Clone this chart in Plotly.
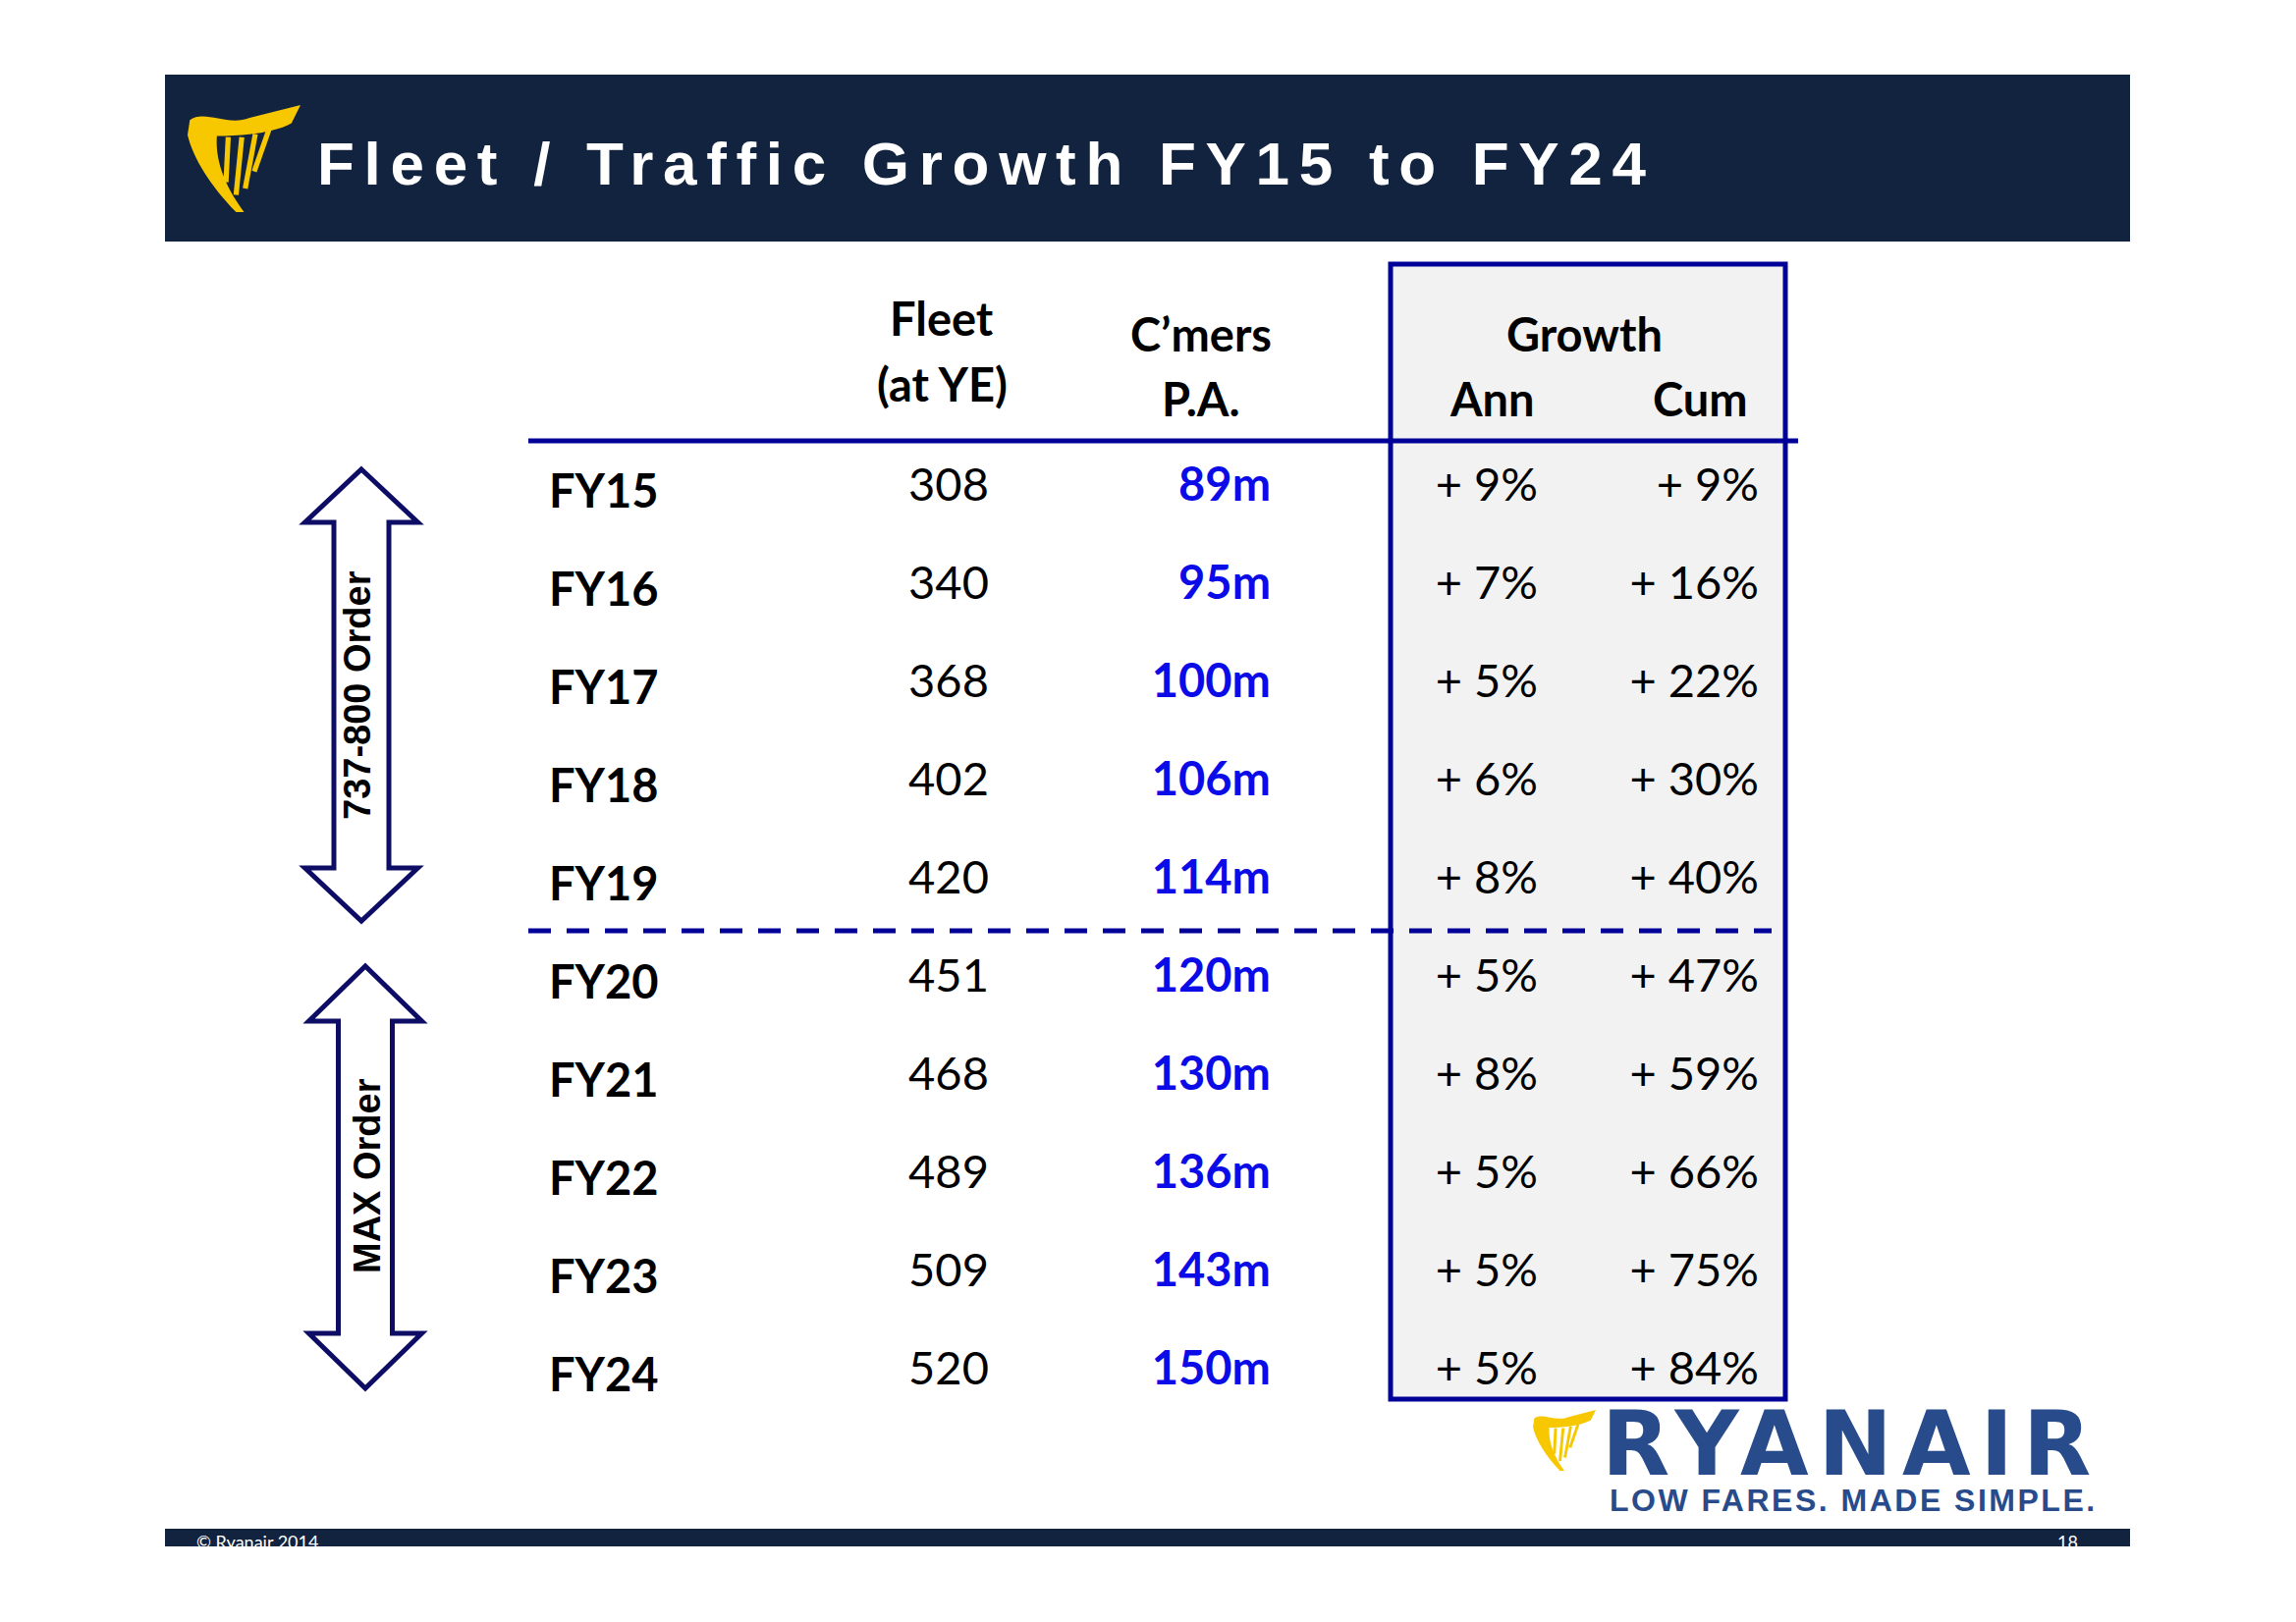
import plotly.graph_objects as go

# ---------------- data ----------------
years = ["FY15", "FY16", "FY17", "FY18", "FY19", "FY20", "FY21", "FY22", "FY23", "FY24"]
fleet = [308, 340, 368, 402, 420, 451, 468, 489, 509, 520]
customers_m = [89, 95, 100, 106, 114, 120, 130, 136, 143, 150]
growth_ann = [9, 7, 5, 6, 8, 5, 8, 5, 5, 5]
growth_cum = [9, 16, 22, 30, 40, 47, 59, 66, 75, 84]

title = "Fleet / Traffic Growth FY15 to FY24"
order_groups = ["737-800 Order", "MAX Order"]

# ---------------- layout constants ----------------
W, H = 2338, 1652
OFF = 8  # default body margin of the html page
NAVY = "#12233F"
BOX_BLUE = "#000099"
ARROW_BLUE = "#0D0D66"
TEXT_BLUE = "#0B0BE8"
YELLOW = "#F7C800"
LOGO_BLUE = "#284B8C"
TFONT = "Lato, 'Open Sans', sans-serif"

ROW_PX = 100
LABEL_Y0 = 505
VALUE_Y0 = 498

COL_LABEL_X = 559
COL_FLEET_X = 966
COL_CUST_X = 1294
COL_ANN_X = 1566
COL_CUM_X = 1791

fig = go.Figure()

# ---------- table cells (text traces on category axes) ----------
FS = 47
fig.add_trace(go.Scatter(x=[COL_LABEL_X] * len(years), y=years, mode="text", text=years,
                         textposition="middle right", yaxis="y2",
                         textfont=dict(family=TFONT, size=FS, color="black", weight="bold"),
                         hoverinfo="skip", showlegend=False))
fig.add_trace(go.Scatter(x=[COL_FLEET_X] * len(years), y=years, mode="text",
                         text=[str(v) for v in fleet], textposition="middle center", yaxis="y3",
                         textfont=dict(family=TFONT, size=FS, color="black"),
                         hoverinfo="skip", showlegend=False))
fig.add_trace(go.Scatter(x=[COL_CUST_X] * len(years), y=years, mode="text",
                         text=[f"{v}m" for v in customers_m], textposition="middle left", yaxis="y3",
                         textfont=dict(family=TFONT, size=FS, color=TEXT_BLUE, weight="bold"),
                         hoverinfo="skip", showlegend=False))
fig.add_trace(go.Scatter(x=[COL_ANN_X] * len(years), y=years, mode="text",
                         text=[f"+ {v}%" for v in growth_ann], textposition="middle left", yaxis="y3",
                         textfont=dict(family=TFONT, size=FS, color="black"),
                         hoverinfo="skip", showlegend=False))
fig.add_trace(go.Scatter(x=[COL_CUM_X] * len(years), y=years, mode="text",
                         text=[f"+ {v}%" for v in growth_cum], textposition="middle left", yaxis="y3",
                         textfont=dict(family=TFONT, size=FS, color="black"),
                         hoverinfo="skip", showlegend=False))

shapes = []
# header bar
shapes.append(dict(type="rect", x0=168, x1=2169, y0=76, y1=246, fillcolor=NAVY, line_width=0, layer="below"))
# footer bar
shapes.append(dict(type="rect", x0=168, x1=2169, y0=1557, y1=1575, fillcolor=NAVY, line_width=0, layer="below"))
# growth box
shapes.append(dict(type="rect", x0=1416, x1=1818, y0=269, y1=1425, fillcolor="#F2F2F2",
                   line=dict(color=BOX_BLUE, width=5), layer="below"))
# header rule
shapes.append(dict(type="line", x0=538, x1=1831, y0=449, y1=449, line=dict(color=BOX_BLUE, width=5), layer="below"))
# dashed separator
shapes.append(dict(type="line", x0=538, x1=1804, y0=948, y1=948,
                   line=dict(color=BOX_BLUE, width=5, dash="23px,16px"), layer="below"))


def dbl_arrow(cx, ytop, ybot, head_w, shaft_w, head_h):
    hx, sx = head_w / 2, shaft_w / 2
    pts = [(cx, ytop), (cx + hx, ytop + head_h), (cx + sx, ytop + head_h), (cx + sx, ybot - head_h),
           (cx + hx, ybot - head_h), (cx, ybot), (cx - hx, ybot - head_h), (cx - sx, ybot - head_h),
           (cx - sx, ytop + head_h), (cx - hx, ytop + head_h)]
    return "M " + " L ".join(f"{x},{y}" for x, y in pts) + " Z"


shapes.append(dict(type="path", path=dbl_arrow(368, 478, 938, 115, 56, 54),
                   line=dict(color=ARROW_BLUE, width=5), fillcolor="white"))
shapes.append(dict(type="path", path=dbl_arrow(372, 984, 1414, 115, 55, 56),
                   line=dict(color=ARROW_BLUE, width=5), fillcolor="white"))


def harp(x0, y0, w, h):
    def P(u, v):
        return f"{x0 + u * w:.1f},{y0 + v * h:.1f}"
    body = (f"M {P(0.02,0.14)} C {P(0.15,0.04)} {P(0.35,0.20)} {P(0.55,0.12)} L {P(1.0,0.0)} "
            f"L {P(0.92,0.17)} C {P(0.75,0.27)} {P(0.45,0.29)} {P(0.26,0.29)} "
            f"C {P(0.24,0.55)} {P(0.36,0.80)} {P(0.50,1.0)} L {P(0.43,1.0)} "
            f"C {P(0.20,0.75)} {P(0.05,0.50)} {P(0.0,0.28)} Z")
    out = [dict(type="path", path=body, fillcolor=YELLOW, line_width=0)]
    strings = [((0.36, 0.30), (0.34, 0.72)), ((0.48, 0.30), (0.43, 0.84)),
               ((0.60, 0.27), (0.51, 0.78)), ((0.72, 0.23), (0.59, 0.62))]
    for (u0, v0), (u1, v1) in strings:
        out.append(dict(type="path", path=f"M {P(u0,v0)} L {P(u1,v1)}",
                        line=dict(color=YELLOW, width=max(2, w / 22))))
    return out


shapes += harp(191, 107, 115, 109)
shapes += harp(1561, 1436, 64, 62)

ann = []
# title
ann.append(dict(x=321, y=166, xref="x", yref="y", xanchor="left", yanchor="middle", showarrow=False,
                text=f'<span style="letter-spacing:9.7px">{title}</span>',
                font=dict(family="'Liberation Sans', Arial, sans-serif", size=62, color="white", weight="bold")))


def hdr(text, x, y):
    ann.append(dict(x=x, y=y, xref="x", yref="y", xanchor="center", yanchor="middle", showarrow=False,
                    text=text, font=dict(family=TFONT, size=FS, color="black", weight="bold")))


hdr("Fleet", 959, 324)
hdr("(at YE)", 959, 391)
hdr("C\u2019mers", 1223, 340)
hdr("P.A.", 1223, 406)
hdr("Growth", 1613, 340)
hdr("Ann", 1519, 406)
hdr("Cum", 1731, 406)

# arrow labels
for txt, (x, y) in zip(order_groups, [(364, 708), (374, 1198)]):
    ann.append(dict(x=x, y=y, xref="x", yref="y", textangle=-90, showarrow=False,
                    xanchor="center", yanchor="middle", text=txt,
                    font=dict(family="'Liberation Sans', Arial, sans-serif", size=38, color="black", weight="bold")))

# bottom-right brand
ann.append(dict(x=1629, y=1470, xref="x", yref="y", xanchor="left", yanchor="middle", showarrow=False,
                text='<span style="letter-spacing:10px">RYANAIR</span>',
                font=dict(family="'DejaVu Sans', sans-serif", size=90, color=LOGO_BLUE, weight="bold")))
ann.append(dict(x=1637, y=1528, xref="x", yref="y", xanchor="left", yanchor="middle", showarrow=False,
                text='<span style="letter-spacing:2.5px">LOW FARES. MADE SIMPLE.</span>',
                font=dict(family="'Liberation Sans Narrow', 'Liberation Sans', sans-serif", size=32,
                          color=LOGO_BLUE, weight="bold")))

# footer texts
ann.append(dict(x=198, y=1570, xref="x", yref="y", xanchor="left", yanchor="middle", showarrow=False,
                text="\u00a9 Ryanair 2014", font=dict(family=TFONT, size=18, color="white")))
ann.append(dict(x=2118, y=1570, xref="x", yref="y", xanchor="right", yanchor="middle", showarrow=False,
                text="18", font=dict(family=TFONT, size=18, color="white")))

fig.update_layout(
    width=W - 2 * OFF, height=H - 2 * OFF, margin=dict(l=0, r=0, t=0, b=0, pad=0),
    paper_bgcolor="white", plot_bgcolor="white",
    xaxis=dict(range=[OFF, W - OFF], visible=False, fixedrange=True),
    yaxis=dict(range=[H - OFF, OFF], visible=False, fixedrange=True),
    yaxis2=dict(type="category", categoryorder="array", categoryarray=years, overlaying="y",
                range=[(H - OFF - LABEL_Y0) / ROW_PX, -(LABEL_Y0 - OFF) / ROW_PX], visible=False, fixedrange=True),
    yaxis3=dict(type="category", categoryorder="array", categoryarray=years, overlaying="y",
                range=[(H - OFF - VALUE_Y0) / ROW_PX, -(VALUE_Y0 - OFF) / ROW_PX], visible=False, fixedrange=True),
    shapes=shapes, annotations=ann, showlegend=False,
)

fig.write_html("out.html")
